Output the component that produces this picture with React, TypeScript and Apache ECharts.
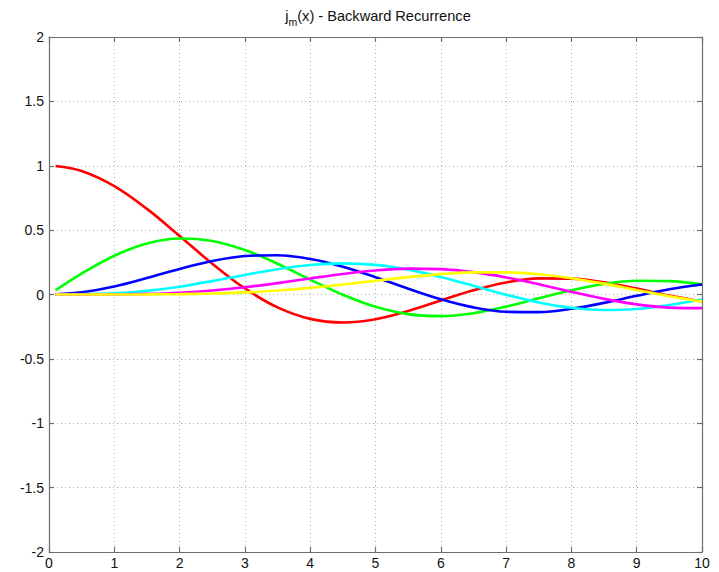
import React, { useEffect, useRef } from "react";
import * as echarts from "echarts";

const xValues = [0.1, 0.5, 1, 1.5, 2, 2.5, 3, 3.5, 4, 4.5, 5, 5.5, 6, 6.5, 7, 7.5, 8, 8.5, 9, 9.5, 10];

const j0 = [0.99833, 0.95885, 0.84147, 0.665, 0.45465, 0.23939, 0.04704, -0.10022, -0.1892, -0.21723, -0.19178, -0.12828, -0.04657, 0.0331, 0.09386, 0.12507, 0.12367, 0.09394, 0.04579, -0.00791, -0.0544];
const j1 = [0.0333, 0.16253, 0.30117, 0.39617, 0.4354, 0.41621, 0.34568, 0.23893, 0.11611, -0.00143, -0.09509, -0.15217, -0.16779, -0.14515, -0.09429, -0.02954, 0.03365, 0.08188, 0.10633, 0.10414, 0.07847];
const j2 = [0.00067, 0.01633, 0.06204, 0.12735, 0.19845, 0.26006, 0.29864, 0.30502, 0.27628, 0.21628, 0.13473, 0.04528, -0.03733, -0.10009, -0.13427, -0.13689, -0.11105, -0.06504, -0.01035, 0.0408, 0.07794];
const j3 = [0.00001, 0.00117, 0.00901, 0.02832, 0.06072, 0.10391, 0.15205, 0.19681, 0.22924, 0.24174, 0.22982, 0.19333, 0.13668, 0.06816, -0.00162, -0.06172, -0.10306, -0.12014, -0.11208, -0.08267, -0.0395];
const j4 = [0.0, 0.00007, 0.00101, 0.00483, 0.01408, 0.03089, 0.05615, 0.0886, 0.12489, 0.15976, 0.18702, 0.20078, 0.19679, 0.17349, 0.13265, 0.07928, 0.02087, -0.0339, -0.07682, -0.10171, -0.10559];
const j5 = [0.0, 0.0, 0.00009, 0.00067, 0.00264, 0.00736, 0.0164, 0.03104, 0.05176, 0.07778, 0.10682, 0.13522, 0.15851, 0.17206, 0.17217, 0.15686, 0.12654, 0.08425, 0.03526, -0.01369, -0.05553];

const seriesList = [j0, j1, j2, j3, j4, j5];
const seriesNames = ["j0", "j1", "j2", "j3", "j4", "j5"];
const seriesColors = ["#ff0000", "#00ff00", "#0000ff", "#00ffff", "#ff00ff", "#ffff00"];

const yTickLabels: Record<string, string> = {
  "2": "2", "1.5": "1.5", "1": "1", "0.5": "0.5", "0": "0",
  "-0.5": "-0.5", "-1": "-1", "-1.5": "-1.5", "-2": "-2",
};

const FONT = "Liberation Sans, Arial, sans-serif";

export default function App() {
  const ref = useRef<HTMLDivElement>(null);
  useEffect(() => {
    if (!ref.current) return;
    const chart = echarts.init(ref.current, null, { renderer: "svg" });
    const axisLineStyle = { color: "#6e6e6e", width: 1.2 };
    const gridLine = { show: true, lineStyle: { color: "#b0b0b0", type: [1, 3] as any, width: 1 } };
    chart.setOption({
      animation: false,
      backgroundColor: "#ffffff",
      title: {
        text: "{a|j}{s|m}{a|(x) - Backward Recurrence}",
        left: 373,
        textAlign: "center",
        top: 3,
        textStyle: {
          rich: {
            a: { fontFamily: FONT, fontSize: 14.6, fontWeight: "normal", color: "#111", verticalAlign: "top", lineHeight: 17 },
            s: { fontFamily: FONT, fontSize: 10.5, fontWeight: "normal", color: "#111", verticalAlign: "top", lineHeight: 11, padding: [8, 0, 0, 0] },
          },
        },
      },
      grid: { left: 49, right: 17, top: 37, bottom: 20, containLabel: false },
      xAxis: [
        {
          type: "value", min: 0, max: 10, interval: 1, position: "bottom",
          axisLine: { show: true, onZero: false, lineStyle: axisLineStyle },
          axisTick: { show: true, inside: true, length: 5, lineStyle: axisLineStyle },
          axisLabel: { color: "#111", fontFamily: FONT, fontSize: 14, margin: 4 },
          splitLine: gridLine,
        },
        {
          type: "value", min: 0, max: 10, interval: 1, position: "top",
          axisLine: { show: true, onZero: false, lineStyle: axisLineStyle },
          axisTick: { show: true, inside: true, length: 5, lineStyle: axisLineStyle },
          axisLabel: { show: false },
          splitLine: { show: false },
        },
      ],
      yAxis: [
        {
          type: "value", min: -2, max: 2, interval: 0.5, position: "left",
          axisLine: { show: true, onZero: false, lineStyle: axisLineStyle },
          axisTick: { show: true, inside: true, length: 5, lineStyle: axisLineStyle },
          axisLabel: {
            color: "#111", fontFamily: FONT, fontSize: 14, margin: 5,
            formatter: (v: number) => yTickLabels[String(v)] ?? String(v),
          },
          splitLine: gridLine,
        },
        {
          type: "value", min: -2, max: 2, interval: 0.5, position: "right",
          axisLine: { show: true, onZero: false, lineStyle: axisLineStyle },
          axisTick: { show: true, inside: true, length: 5, lineStyle: axisLineStyle },
          axisLabel: { show: false },
          splitLine: { show: false },
        },
      ],
      series: seriesList.map((arr, i) => ({
        name: seriesNames[i],
        type: "line",
        xAxisIndex: 0,
        yAxisIndex: 0,
        data: xValues.map((x, k) => [x, arr[k]]),
        smooth: 0.35,
        showSymbol: false,
        symbol: "none",
        lineStyle: { color: seriesColors[i], width: 2.6 },
        itemStyle: { color: seriesColors[i] },
        z: 2 + i,
      })),
    });
    return () => chart.dispose();
  }, []);
  return <div ref={ref} style={{ width: 719, height: 572, position: "absolute", left: 0, top: 0 }} />;
}
